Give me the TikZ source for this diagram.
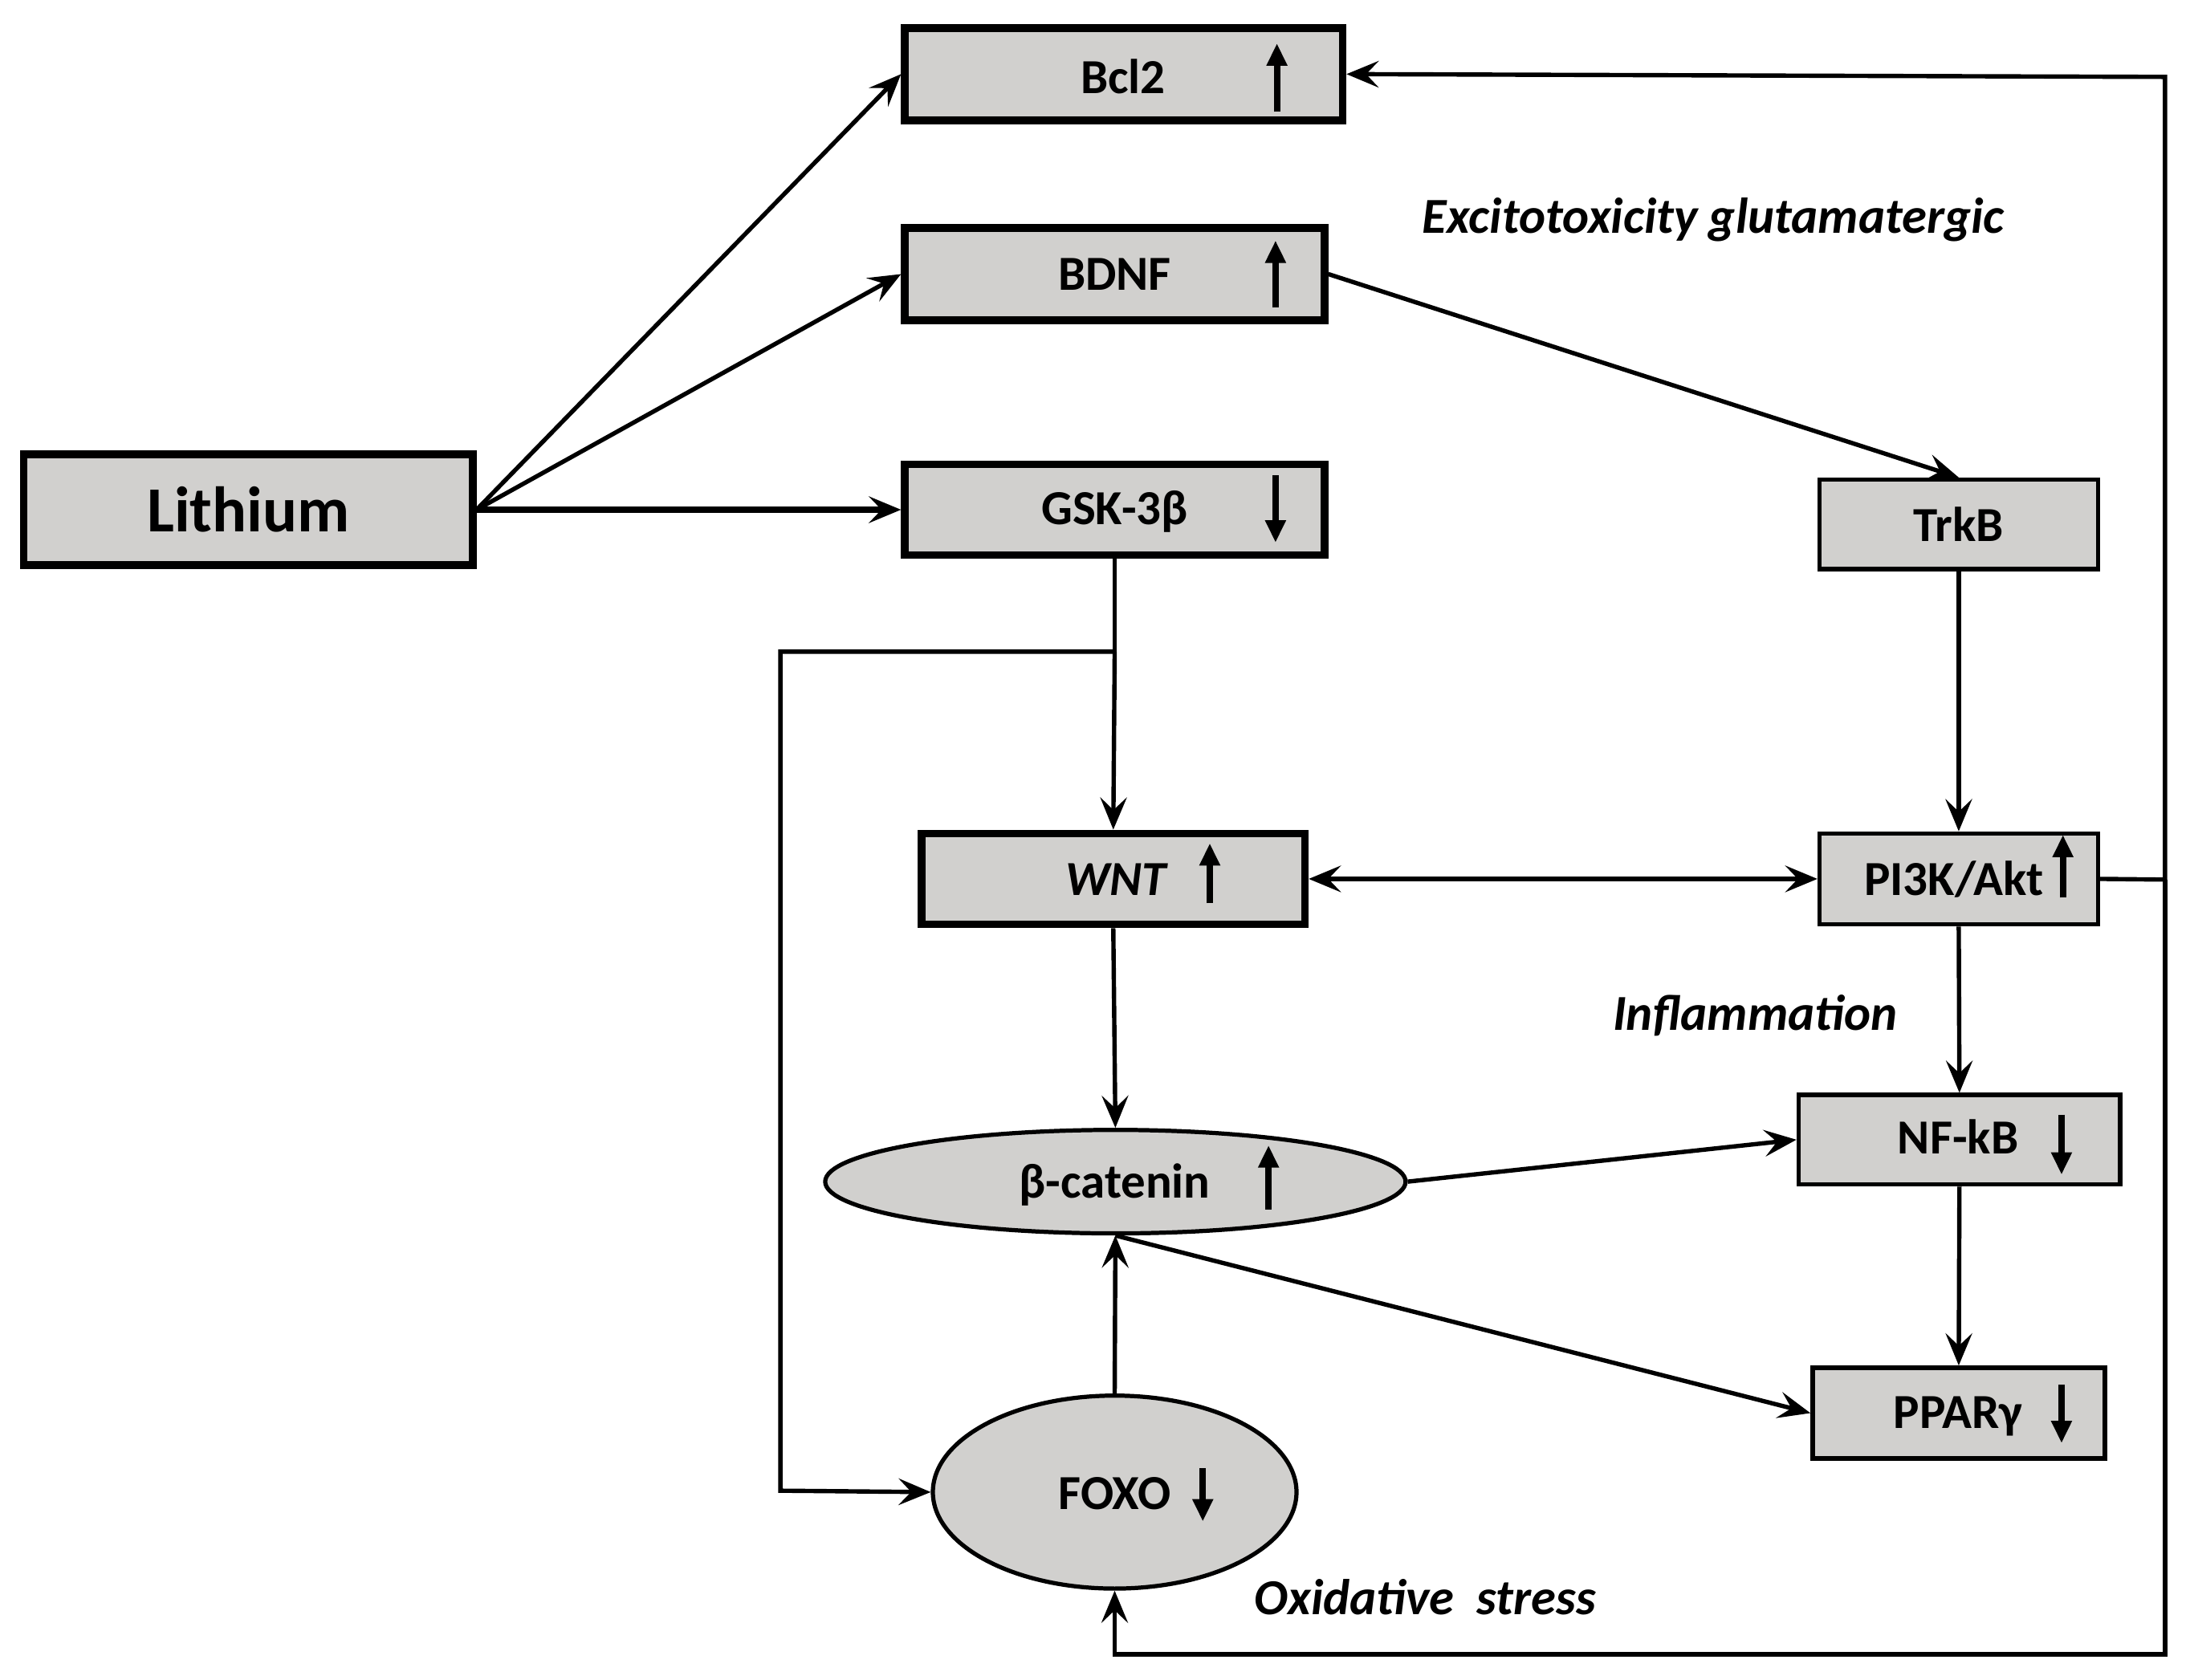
\documentclass[tikz,border=0pt]{standalone}
\usepackage{fontspec}
\setmainfont{Carlito}
\usetikzlibrary{arrows.meta,shapes.geometric}
\definecolor{boxgray}{RGB}{209,208,206}
\tikzset{
  x=1pt,y=-1pt,
  mytip/.tip={Stealth[length=23pt,width=19pt,inset=9pt]},
  conn/.style={line width=3.1pt,-mytip},
  thickbox/.style={draw,line width=5.5pt,fill=boxgray,rectangle,inner sep=0pt,font=\fontsize{35}{40}\selectfont\bfseries},
  thinbox/.style={draw,line width=3.1pt,fill=boxgray,rectangle,inner sep=0pt,font=\fontsize{35}{40}\selectfont\bfseries},
  ell/.style={draw,line width=3pt,fill=boxgray,ellipse,inner sep=0pt,font=\fontsize{35}{40}\selectfont\bfseries},
  updown/.style={line width=4.6pt,-{Triangle[length=16pt,width=14pt]}},
  txt/.style={font=\fontsize{35}{40}\selectfont\bfseries},
  lab/.style={font=\fontsize{36}{40}\selectfont\bfseries\itshape}
}
\begin{document}
\begin{tikzpicture}
\useasboundingbox (0,0) rectangle (1563,1201);
% nodes
\node[thickbox,minimum width=321pt,minimum height=79pt,font=\fontsize{46}{50}\selectfont\bfseries] (li) at (177.5,364.5) {Lithium};
\node[thickbox,minimum width=313pt,minimum height=66pt] (bcl) at (803.5,53) {};
\node[thickbox,minimum width=300pt,minimum height=66pt] (bdnf) at (797,196) {};
\node[thickbox,minimum width=300pt,minimum height=65pt] (gsk) at (797,364.5) {};
\node[thinbox,minimum width=199pt,minimum height=64pt] (trkb) at (1400.5,375) {TrkB};
\node[thickbox,minimum width=274pt,minimum height=65pt] (wnt) at (796,628.5) {};
\node[thinbox,minimum width=199pt,minimum height=65pt] (pi3k) at (1400.5,628.5) {};
\node[thinbox,minimum width=230pt,minimum height=64pt] (nfkb) at (1401,815) {};
\node[thinbox,minimum width=209pt,minimum height=65pt] (ppar) at (1400.5,1010.5) {};
\node[ell,minimum width=415pt,minimum height=74pt] (bcat) at (797.5,845) {};
\node[ell,minimum width=260pt,minimum height=138pt] (foxo) at (797,1067) {};
% texts inside
\node[txt] (tbcl) at (803,55) {Bcl2};
\node[txt] (tbdnf) at (797,196) {BDNF};
\node[txt] (tgsk) at (797,366) {GSK-3β};
\node[txt,font=\fontsize{35}{40}\selectfont\bfseries\itshape] (twnt) at (798,629) {WNT};
\node[txt] (tpi) at (1397,629) {PI3K/Akt};
\node[txt] (tnf) at (1400,813) {NF-kB};
\node[txt] (tpp) at (1400,1013) {PPARγ};
\node[txt] (tbc) at (797,847) {β-catenin};
\node[txt] (tfo) at (797,1068) {FOXO};
% up/down arrows
\draw[updown] (913,80) -- (913,31);
\draw[updown] (912,220) -- (912,172);
\draw[updown] (912,340) -- (912,388);
\draw[updown] (865,646) -- (865,603);
\draw[updown] (1475,642) -- (1475,597);
\draw[updown] (1474,797) -- (1474,840);
\draw[updown] (1474,990) -- (1474,1032);
\draw[updown] (907,865) -- (907,819);
\draw[updown] (860,1050) -- (860,1088);
% labels
\node[lab] (l1) at (1225,157) {Excitotoxicity glutamatergic};
\node[lab] (l2) at (1255,726) {Inflammation};
\node[lab] (l3) at (1019,1142) {Oxidative\ \ stress};
% coordinates
\coordinate (j1) at (797,466);
\coordinate (j2) at (558,466);
\coordinate (j3) at (558,1066);
\coordinate (r0) at (1548,629);
\coordinate (r1) at (1548,55);
\coordinate (r2) at (1548,1183);
\coordinate (r3) at (797,1183);
% connectors
\draw[conn] (li.east) -- (bcl.west);
\draw[conn] (li.east) -- (bdnf.west);
\draw[conn,line width=4.6pt] (li.east) -- (gsk.west);
\draw[conn] (bdnf.east) -- (trkb.north);
\draw[line width=3.1pt] (gsk.south) -- (j1);
\draw[conn] (j1) -- (wnt.north);
\draw[conn] (j1) -- (j2) -- (j3) -- (foxo.west);
\draw[conn] (trkb.south) -- (pi3k.north);
\draw[line width=3.1pt,mytip-mytip] (wnt.east) -- (pi3k.west);
\draw[line width=3.1pt] (pi3k.east) -- (r0);
\draw[conn] (r0) -- (r1) -- (bcl.east);
\draw[conn] (r0) -- (r2) -- (r3) -- (foxo.south);
\draw[conn] (wnt.south) -- (bcat.north);
\draw[conn] (pi3k.south) -- (nfkb.north);
\draw[conn] (nfkb.south) -- (ppar.north);
\draw[conn] (bcat.east) -- (nfkb.west);
\draw[conn] (bcat.south) -- (ppar.west);
\draw[conn] (foxo.north) -- (bcat.south);
\end{tikzpicture}
\end{document}
